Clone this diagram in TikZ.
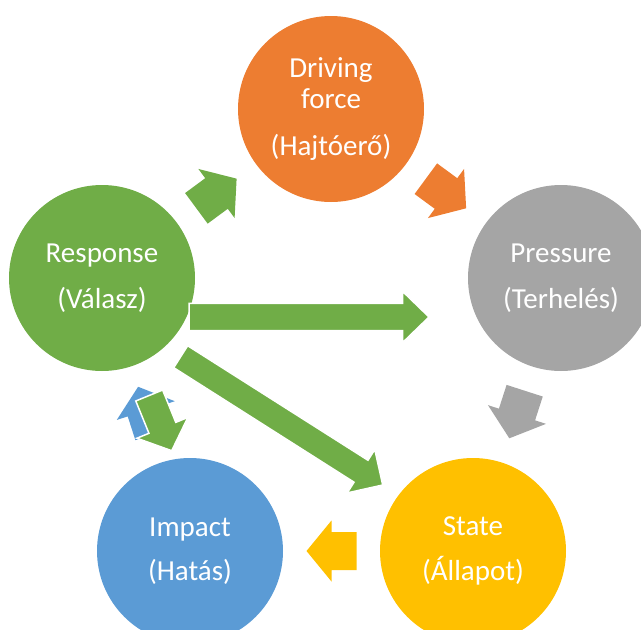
\documentclass[tikz,border=0pt]{standalone}
\usepackage{fontspec}
\setmainfont{Carlito}
\usetikzlibrary{calc}
\definecolor{cgreen}{HTML}{70AD47}
\definecolor{corange}{HTML}{ED7D31}
\definecolor{cgray}{HTML}{A5A5A5}
\definecolor{cyellow}{HTML}{FFC000}
\definecolor{cblue}{HTML}{5B9BD5}
% #1 style, #2 tail coordinate, #3 tip coordinate, #4 half shaft, #5 half head, #6 head length
\newcommand\fatarrow[6]{%
  \coordinate (fa-h) at ($(#3)!#6!(#2)$);
  \filldraw[#1] ($(#2)!#4!90:(#3)$) -- ($(fa-h)!#4!90:(#3)$) -- ($(fa-h)!#5!90:(#3)$) -- (#3)
    -- ($(fa-h)!#5!-90:(#3)$) -- ($(fa-h)!#4!-90:(#3)$) -- ($(#2)!#4!-90:(#3)$) -- cycle;}
\begin{document}
\begin{tikzpicture}[x=1pt,y=-1pt,
  circ/.style={circle, minimum size=186pt, inner sep=0pt, text=white, align=center,
    font=\fontsize{29}{31.5}\selectfont},
  cyc/.style={draw=none},
  extra/.style={fill=cgreen, draw=white, line width=1.5pt, line join=miter}]
\useasboundingbox (0,0) rectangle (641,630);
\node[circ, fill=corange] (drive) at (331,109) {Driving\\force\\[15pt](Hajtóerő)};
\node[circ, fill=cgreen]  (resp)  at (102,278) {Response\\[14pt](Válasz)};
\node[circ, fill=cgray]   (press) at (561,278) {Pressure\\[14pt](Terhelés)};
\node[circ, fill=cyellow] (state) at (473,551) {State\\[13pt](Állapot)};
\node[circ, fill=cblue]   (imp)   at (190,551) {Impact\\[13pt](Hatás)};
% cycle arrows, centred between the circles
\coordinate (m1) at ($(resp)!0.5!(drive)$);
\coordinate (t1) at ($(m1)!25pt!(resp)$);  \coordinate (h1) at ($(m1)!25pt!(drive)$);
\coordinate (m2) at ($(drive)!0.5!(press)$);
\coordinate (t2) at ($(m2)!25pt!(drive)$); \coordinate (h2) at ($(m2)!25pt!(press)$);
\coordinate (m3) at ($(press)!0.5!(state)$);
\coordinate (t3) at ($(m3)!25pt!(press)$); \coordinate (h3) at ($(m3)!25pt!(state)$);
\coordinate (m4) at ($(state)!0.5!(imp)$);
\coordinate (t4) at ($(m4)!25pt!(state)$); \coordinate (h4) at ($(m4)!25pt!(imp)$);
\coordinate (m5) at ($($(imp)!0.5!(resp)$)+(0,-4)$);
\coordinate (t5) at ($(m5)!25pt!(imp)$);   \coordinate (h5) at ($(m5)!25pt!(resp)$);
\fatarrow{cyc, fill=cgreen}{t1}{h1}{19pt}{30.5pt}{25pt}
\fatarrow{cyc, fill=corange}{t2}{h2}{19pt}{30.5pt}{25pt}
\fatarrow{cyc, fill=cgray}{t3}{h3}{19pt}{30.5pt}{25pt}
\fatarrow{cyc, fill=cyellow}{t4}{h4}{19pt}{30.5pt}{25pt}
\fatarrow{cyc, fill=cblue}{t5}{h5}{19pt}{30.5pt}{25pt}
% extra green arrows from Response
\coordinate (rp-t) at (189,317);   \coordinate (rp-h) at (429,317);
\coordinate (rs-t) at (180.7,356.7); \coordinate (rs-h) at (382.7,485);
\coordinate (ri-t) at (149.2,395.5); \coordinate (ri-h) at (171.7,450.7);
\fatarrow{extra}{rp-t}{rp-h}{13.7pt}{25.5pt}{26.3pt}
\fatarrow{extra}{rs-t}{rs-h}{13pt}{25.7pt}{25.7pt}
\fatarrow{extra}{ri-t}{ri-h}{14.5pt}{27.5pt}{24.7pt}
\end{tikzpicture}
\end{document}
